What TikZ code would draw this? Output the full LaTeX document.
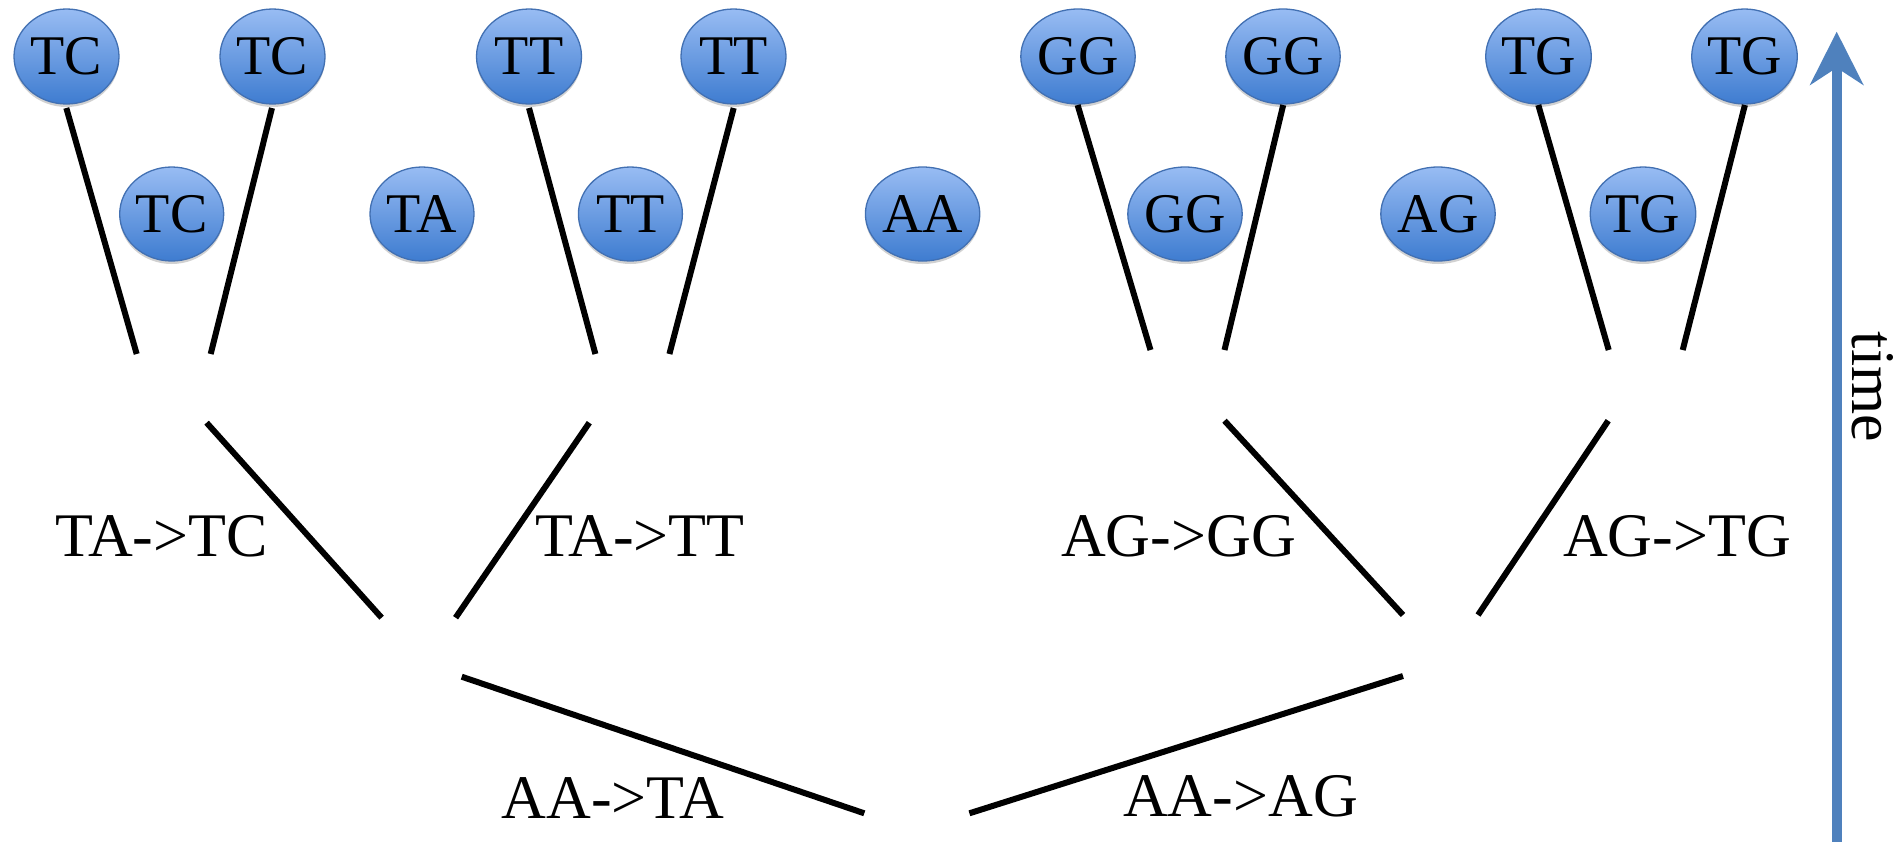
\documentclass[tikz,border=0pt]{standalone}
\usepackage{fontspec}
\setmainfont{Liberation Serif}
\usetikzlibrary{shapes.geometric,arrows.meta,shadows}
\definecolor{balltop}{RGB}{152,188,243}
\definecolor{ballbot}{RGB}{62,124,208}
\definecolor{ballrim}{RGB}{66,112,178}
\definecolor{timeblue}{RGB}{79,129,189}
\tikzset{
  ball/.style={ellipse, minimum width=105pt, minimum height=95pt, inner sep=0pt,
    draw=ballrim, line width=1.3pt, top color=balltop, bottom color=ballbot,
    font=\fontsize{56}{60}\selectfont,
    drop shadow={shadow xshift=0pt, shadow yshift=-3pt, opacity=0.18, fill=black}},
  midball/.style={ball, minimum width=104pt, minimum height=94pt},
  branch/.style={line width=6pt, black},
  lbl/.style={font=\fontsize{62}{70}\selectfont, anchor=base, inner sep=0pt},
}
\begin{document}
\begin{tikzpicture}[x=1pt, y=-1pt]
\useasboundingbox (0,0) rectangle (1901,841);

% leaves at the top
\node[ball] (tc1) at (66.5,56.5) {TC};
\node[ball] (tc2) at (272.5,56.5) {TC};
\node[ball] (tt1) at (529,56.5) {TT};
\node[ball] (tt2) at (733.5,56.5) {TT};
\node[ball] (gg1) at (1078,56.5) {GG};
\node[ball] (gg2) at (1283,56.5) {GG};
\node[ball] (tg1) at (1538.5,56.5) {TG};
\node[ball] (tg2) at (1744.5,56.5) {TG};

% intermediate states
\node[midball] (tc0) at (171.7,214) {TC};
\node[midball] (ta0) at (422,214) {TA};
\node[midball] (tt0) at (630.4,214) {TT};
\node[midball] (aa0) at (922.6,214) {AA};
\node[midball] (gg0) at (1185,214) {GG};
\node[midball] (ag0) at (1438,214) {AG};
\node[midball] (tg0) at (1643,214) {TG};

% branch end points
\coordinate (a1) at (66.3,108);    \coordinate (b1) at (136.7,354);
\coordinate (a2) at (272,108);     \coordinate (b2) at (210.7,354);
\coordinate (a3) at (529,108);     \coordinate (b3) at (595.4,354);
\coordinate (a4) at (733.7,108);   \coordinate (b4) at (669.4,354);
\coordinate (a5) at (1077.6,105);  \coordinate (b5) at (1150.5,350);
\coordinate (a6) at (1283.2,105);  \coordinate (b6) at (1224.5,350);
\coordinate (a7) at (1538.3,105);  \coordinate (b7) at (1608.7,350);
\coordinate (a8) at (1744.9,105);  \coordinate (b8) at (1682.7,350);

\coordinate (m1a) at (206.6,422.7);  \coordinate (m1b) at (381.6,617.7);
\coordinate (m2a) at (589.3,422.7);  \coordinate (m2b) at (455.6,617.7);
\coordinate (m3a) at (1224.5,420.7); \coordinate (m3b) at (1403,615);
\coordinate (m4a) at (1608.2,420.7); \coordinate (m4b) at (1478,615);

\coordinate (r1a) at (461.7,676.7);  \coordinate (r1b) at (864.3,813.3);
\coordinate (r2a) at (969.4,813.3);  \coordinate (r2b) at (1403,676);

% tree branches
\foreach \p/\q in {a1/b1,a2/b2,a3/b3,a4/b4,a5/b5,a6/b6,a7/b7,a8/b8,
                   m1a/m1b,m2a/m2b,m3a/m3b,m4a/m4b,r1a/r1b,r2a/r2b}
  \draw[branch] (\p) -- (\q);

% mutation labels
\node[lbl] (l1) at (161.5,556.7) {TA->TC};
\node[lbl] (l2) at (640,556.7) {TA->TT};
\node[lbl] (l3) at (1178.5,556.7) {AG->GG};
\node[lbl] (l4) at (1677,556.7) {AG->TG};
\node[lbl] (l5) at (613,818.3) {AA->TA};
\node[lbl] (l6) at (1240.5,816.7) {AA->AG};

% time axis
\coordinate (t0) at (1836.7,845);
\coordinate (t1) at (1836.7,31.7);
\draw[timeblue, line width=10pt,
      -{Stealth[length=53pt, width=53pt, inset=17pt]}] (t0) -- (t1);
\node[font=\fontsize{62}{70}\selectfont, rotate=-90, inner sep=0pt] (time) at (1873,387) {time};
\end{tikzpicture}
\end{document}
